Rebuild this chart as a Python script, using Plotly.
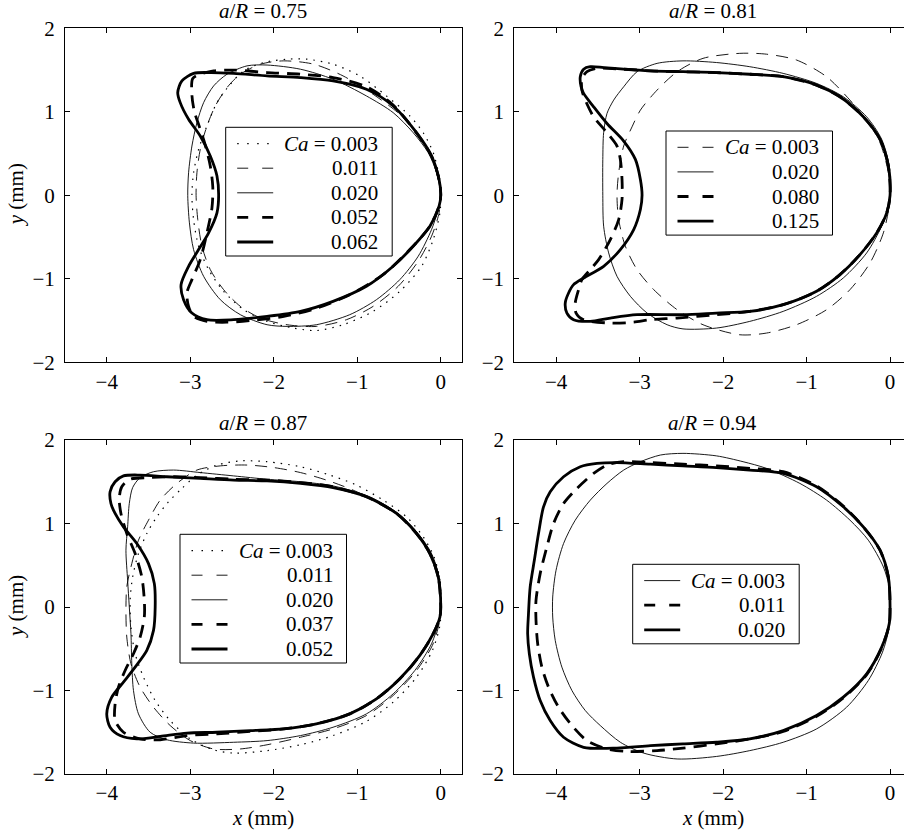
import plotly.graph_objects as go

# Bubble contours (x, y) in mm, traced nose -> top -> rear -> bottom -> nose.

# ---------- a/R = 0.75 ----------
ar075_ca0003 = [(0, 0), (-0.02, 0.23), (-0.09, 0.51), (-0.21, 0.75), (-0.37, 0.95), (-0.65, 1.19),
                (-0.97, 1.43), (-1.29, 1.57), (-1.60, 1.63), (-1.84, 1.63), (-2.12, 1.59), (-2.36, 1.49),
                (-2.52, 1.33), (-2.68, 1.11), (-2.80, 0.83), (-2.90, 0.55), (-2.96, 0.27), (-2.98, 0),
                (-2.96, -0.29), (-2.90, -0.61), (-2.78, -0.89), (-2.60, -1.15), (-2.36, -1.37),
                (-2.08, -1.51), (-1.76, -1.59), (-1.49, -1.62), (-1.17, -1.55), (-0.81, -1.39),
                (-0.49, -1.15), (-0.23, -0.85), (-0.09, -0.53), (-0.01, -0.21), (0, 0)]
ar075_ca0011 = [(0, 0), (-0.03, 0.19), (-0.11, 0.47), (-0.27, 0.73), (-0.49, 0.97), (-0.81, 1.21),
                (-1.17, 1.43), (-1.52, 1.57), (-1.88, 1.61), (-2.16, 1.57), (-2.40, 1.45), (-2.56, 1.29),
                (-2.70, 1.07), (-2.80, 0.83), (-2.88, 0.55), (-2.92, 0.27), (-2.93, 0), (-2.91, -0.29),
                (-2.86, -0.61), (-2.76, -0.89), (-2.60, -1.13), (-2.40, -1.33), (-2.16, -1.47),
                (-1.84, -1.55), (-1.49, -1.57), (-1.13, -1.49), (-0.81, -1.33), (-0.51, -1.09),
                (-0.27, -0.79), (-0.11, -0.49), (-0.02, -0.21), (0, 0)]
ar075_ca0020 = [(0, 0), (-0.05, 0.27), (-0.15, 0.51), (-0.33, 0.75), (-0.57, 0.99), (-0.89, 1.19),
                (-1.29, 1.39), (-1.68, 1.51), (-2.08, 1.56), (-2.32, 1.55), (-2.56, 1.45), (-2.72, 1.31),
                (-2.84, 1.11), (-2.92, 0.87), (-2.98, 0.59), (-3.02, 0.27), (-3.03, 0), (-3.01, -0.33),
                (-2.96, -0.65), (-2.84, -0.97), (-2.64, -1.25), (-2.40, -1.43), (-2.08, -1.55),
                (-1.84, -1.57), (-1.49, -1.55), (-1.09, -1.43), (-0.77, -1.25), (-0.49, -1.01),
                (-0.27, -0.73), (-0.11, -0.41), (-0.02, -0.13), (0, 0)]
ar075_ca0052 = [(0, 0), (-0.02, 0.19), (-0.11, 0.47), (-0.30, 0.76), (-0.58, 1.09), (-0.89, 1.30),
                (-1.29, 1.41), (-1.68, 1.45), (-2.08, 1.47), (-2.48, 1.50), (-2.72, 1.49), (-2.88, 1.45),
                (-2.97, 1.40), (-2.98, 1.20), (-2.95, 1.00), (-2.89, 0.82), (-2.82, 0.60), (-2.76, 0.35),
                (-2.73, 0.10), (-2.74, -0.15), (-2.80, -0.45), (-2.88, -0.77), (-2.98, -1.01),
                (-3.04, -1.17), (-3.02, -1.33), (-2.96, -1.45), (-2.80, -1.51), (-2.56, -1.52),
                (-2.28, -1.50), (-1.88, -1.45), (-1.48, -1.35), (-1.09, -1.19), (-0.69, -0.95),
                (-0.37, -0.65), (-0.13, -0.37), (-0.02, -0.13), (0, 0)]
ar075_ca0062 = [(0, 0), (-0.02, 0.19), (-0.11, 0.47), (-0.29, 0.75), (-0.57, 1.07), (-0.89, 1.27),
                (-1.29, 1.37), (-1.68, 1.41), (-2.08, 1.43), (-2.48, 1.46), (-2.76, 1.47), (-2.96, 1.46),
                (-3.10, 1.37), (-3.15, 1.23), (-3.12, 1.11), (-3.02, 0.91), (-2.88, 0.71), (-2.76, 0.47),
                (-2.68, 0.23), (-2.66, 0), (-2.68, -0.21), (-2.78, -0.45), (-2.90, -0.65), (-3.02, -0.85),
                (-3.11, -1.07), (-3.08, -1.25), (-2.98, -1.41), (-2.80, -1.49), (-2.48, -1.49),
                (-2.08, -1.45), (-1.68, -1.39), (-1.29, -1.27), (-0.89, -1.09), (-0.57, -0.85),
                (-0.33, -0.61), (-0.13, -0.37), (-0.02, -0.13), (0, 0)]

# ---------- a/R = 0.81 ----------
ar081_ca0003 = [(0, 0), (-0.02, 0.27), (-0.12, 0.63), (-0.28, 0.90), (-0.48, 1.14), (-0.76, 1.42),
                (-1.12, 1.62), (-1.48, 1.69), (-1.80, 1.70), (-2.24, 1.64), (-2.55, 1.48), (-2.79, 1.26),
                (-2.99, 1.02), (-3.09, 0.82), (-3.19, 0.59), (-3.25, 0.27), (-3.27, 0), (-3.25, -0.29),
                (-3.17, -0.61), (-3.03, -0.89), (-2.83, -1.13), (-2.55, -1.37), (-2.24, -1.55),
                (-1.80, -1.67), (-1.48, -1.65), (-1.12, -1.55), (-0.76, -1.37), (-0.48, -1.13),
                (-0.24, -0.81), (-0.08, -0.45), (-0.01, -0.13), (0, 0)]
ar081_ca0020 = [(0, 0), (-0.01, 0.35), (-0.10, 0.67), (-0.28, 0.94), (-0.56, 1.18), (-0.88, 1.34),
                (-1.28, 1.46), (-1.68, 1.54), (-2.08, 1.59), (-2.48, 1.61), (-2.79, 1.58), (-3.03, 1.48),
                (-3.19, 1.30), (-3.31, 1.14), (-3.39, 0.98), (-3.43, 0.75), (-3.44, 0.43), (-3.44, 0),
                (-3.43, -0.37), (-3.37, -0.69), (-3.27, -0.97), (-3.11, -1.21), (-2.91, -1.41),
                (-2.67, -1.55), (-2.48, -1.60), (-2.08, -1.59), (-1.68, -1.51), (-1.28, -1.39),
                (-0.88, -1.21), (-0.56, -0.99), (-0.28, -0.69), (-0.10, -0.37), (-0.01, -0.13), (0, 0)]
ar081_ca0080 = [(0, 0), (-0.02, 0.35), (-0.12, 0.67), (-0.32, 0.94), (-0.60, 1.18), (-0.88, 1.32),
                (-1.28, 1.42), (-1.68, 1.45), (-2.08, 1.47), (-2.48, 1.48), (-2.87, 1.49), (-3.19, 1.51),
                (-3.51, 1.52), (-3.63, 1.48), (-3.69, 1.40), (-3.69, 1.26), (-3.65, 1.14), (-3.55, 0.94),
                (-3.39, 0.75), (-3.27, 0.59), (-3.23, 0.43), (-3.21, 0.19), (-3.21, -0.05), (-3.25, -0.29),
                (-3.35, -0.53), (-3.49, -0.77), (-3.59, -0.89), (-3.69, -1.01), (-3.73, -1.13),
                (-3.77, -1.29), (-3.76, -1.41), (-3.67, -1.49), (-3.35, -1.53), (-3.07, -1.52),
                (-2.87, -1.49), (-2.55, -1.47), (-2.08, -1.43), (-1.68, -1.39), (-1.28, -1.31),
                (-0.88, -1.15), (-0.60, -0.95), (-0.36, -0.71), (-0.16, -0.45), (-0.04, -0.21), (0, 0)]
ar081_ca0125 = [(0, 0), (-0.02, 0.35), (-0.12, 0.67), (-0.32, 0.94), (-0.60, 1.18), (-0.88, 1.32),
                (-1.28, 1.42), (-1.68, 1.45), (-2.08, 1.47), (-2.48, 1.48), (-2.87, 1.49), (-3.19, 1.51),
                (-3.43, 1.53), (-3.59, 1.54), (-3.67, 1.51), (-3.71, 1.42), (-3.70, 1.30), (-3.67, 1.22),
                (-3.55, 1.06), (-3.39, 0.86), (-3.19, 0.65), (-3.05, 0.43), (-2.99, 0.19), (-2.97, 0),
                (-2.99, -0.17), (-3.07, -0.41), (-3.23, -0.65), (-3.43, -0.85), (-3.67, -0.99),
                (-3.79, -1.07), (-3.85, -1.17), (-3.89, -1.29), (-3.87, -1.41), (-3.79, -1.49),
                (-3.59, -1.51), (-3.35, -1.47), (-3.03, -1.43), (-2.48, -1.43), (-2.08, -1.41),
                (-1.68, -1.39), (-1.28, -1.31), (-0.88, -1.15), (-0.60, -0.95), (-0.36, -0.71),
                (-0.16, -0.45), (-0.04, -0.21), (0, 0)]

# ---------- a/R = 0.87 ----------
ar087_ca0003 = [(0, 0), (-0.01, 0.32), (-0.08, 0.60), (-0.21, 0.84), (-0.41, 1.08), (-0.69, 1.28),
                (-1.01, 1.46), (-1.33, 1.58), (-1.68, 1.68), (-2.08, 1.74), (-2.40, 1.75), (-2.68, 1.70),
                (-2.92, 1.58), (-3.10, 1.42), (-3.26, 1.26), (-3.40, 1.08), (-3.52, 0.88), (-3.62, 0.64),
                (-3.69, 0.36), (-3.72, 0.08), (-3.71, -0.24), (-3.66, -0.56), (-3.56, -0.84),
                (-3.42, -1.12), (-3.24, -1.36), (-3.00, -1.58), (-2.72, -1.71), (-2.48, -1.75),
                (-2.08, -1.72), (-1.68, -1.65), (-1.29, -1.54), (-0.89, -1.37), (-0.57, -1.14),
                (-0.29, -0.84), (-0.10, -0.52), (-0.01, -0.22), (0, 0)]
ar087_ca0011 = [(0, 0), (-0.02, 0.32), (-0.10, 0.60), (-0.23, 0.82), (-0.43, 1.04), (-0.73, 1.24),
                (-1.05, 1.40), (-1.37, 1.52), (-1.68, 1.61), (-2.00, 1.67), (-2.32, 1.70), (-2.64, 1.69),
                (-2.92, 1.64), (-3.16, 1.48), (-3.36, 1.28), (-3.50, 1.04), (-3.62, 0.80), (-3.70, 0.52),
                (-3.76, 0.24), (-3.77, -0.04), (-3.76, -0.36), (-3.71, -0.68), (-3.60, -0.96),
                (-3.44, -1.20), (-3.24, -1.42), (-3.00, -1.60), (-2.72, -1.70), (-2.40, -1.70),
                (-2.08, -1.65), (-1.68, -1.56), (-1.29, -1.46), (-0.89, -1.30), (-0.57, -1.06),
                (-0.29, -0.76), (-0.10, -0.46), (-0.02, -0.20), (0, 0)]
ar087_ca0020 = [(0, 0), (-0.02, 0.36), (-0.11, 0.64), (-0.27, 0.88), (-0.51, 1.12), (-0.85, 1.32),
                (-1.29, 1.45), (-1.68, 1.50), (-2.08, 1.53), (-2.48, 1.57), (-2.88, 1.61), (-3.20, 1.64),
                (-3.44, 1.62), (-3.60, 1.55), (-3.69, 1.43), (-3.73, 1.24), (-3.75, 0.96), (-3.77, 0.68),
                (-3.75, 0.32), (-3.73, 0), (-3.71, -0.32), (-3.70, -0.68), (-3.68, -1.00), (-3.62, -1.28),
                (-3.48, -1.50), (-3.28, -1.59), (-2.96, -1.63), (-2.48, -1.62), (-2.08, -1.60),
                (-1.68, -1.54), (-1.29, -1.44), (-0.89, -1.28), (-0.57, -1.04), (-0.31, -0.76),
                (-0.11, -0.44), (-0.02, -0.16), (0, 0)]
ar087_ca0037 = [(0, 0), (-0.03, 0.36), (-0.13, 0.64), (-0.29, 0.88), (-0.53, 1.12), (-0.89, 1.32),
                (-1.29, 1.44), (-1.68, 1.49), (-2.08, 1.52), (-2.48, 1.53), (-2.88, 1.55), (-3.20, 1.56),
                (-3.48, 1.55), (-3.72, 1.53), (-3.82, 1.44), (-3.85, 1.30), (-3.83, 1.12), (-3.76, 0.88),
                (-3.66, 0.64), (-3.58, 0.36), (-3.55, 0.08), (-3.55, -0.12), (-3.60, -0.36),
                (-3.68, -0.56), (-3.78, -0.76), (-3.86, -0.96), (-3.90, -1.16), (-3.90, -1.36),
                (-3.80, -1.50), (-3.60, -1.58), (-3.36, -1.59), (-3.04, -1.54), (-2.68, -1.52),
                (-2.28, -1.49), (-1.88, -1.46), (-1.49, -1.40), (-1.09, -1.28), (-0.77, -1.10),
                (-0.49, -0.86), (-0.25, -0.58), (-0.09, -0.32), (-0.01, -0.12), (0, 0)]
ar087_ca0052 = [(0, 0), (-0.03, 0.36), (-0.13, 0.64), (-0.29, 0.88), (-0.53, 1.12), (-0.89, 1.32),
                (-1.29, 1.43), (-1.68, 1.48), (-2.08, 1.51), (-2.48, 1.52), (-2.88, 1.54), (-3.28, 1.56),
                (-3.60, 1.58), (-3.80, 1.57), (-3.90, 1.50), (-3.96, 1.38), (-3.95, 1.24), (-3.90, 1.12),
                (-3.80, 0.96), (-3.64, 0.76), (-3.50, 0.52), (-3.43, 0.28), (-3.42, 0), (-3.44, -0.28),
                (-3.52, -0.52), (-3.66, -0.72), (-3.80, -0.90), (-3.94, -1.08), (-4.00, -1.28),
                (-3.96, -1.44), (-3.84, -1.54), (-3.64, -1.58), (-3.36, -1.55), (-3.04, -1.51),
                (-2.68, -1.50), (-2.28, -1.48), (-1.88, -1.46), (-1.49, -1.40), (-1.09, -1.28),
                (-0.77, -1.10), (-0.49, -0.86), (-0.25, -0.58), (-0.09, -0.32), (-0.01, -0.12), (0, 0)]

# ---------- a/R = 0.94 ----------
ar094_ca0003 = [(0, 0), (-0.01, 0.24), (-0.08, 0.48), (-0.26, 0.80), (-0.48, 1.04), (-0.76, 1.28),
                (-1.08, 1.48), (-1.48, 1.66), (-1.76, 1.74), (-2.08, 1.81), (-2.48, 1.84), (-2.75, 1.82),
                (-2.99, 1.74), (-3.19, 1.64), (-3.39, 1.48), (-3.59, 1.28), (-3.77, 1.04), (-3.91, 0.76),
                (-4.00, 0.44), (-4.04, 0.12), (-4.04, -0.12), (-4.01, -0.40), (-3.93, -0.72),
                (-3.81, -1.00), (-3.65, -1.24), (-3.47, -1.42), (-3.23, -1.62), (-2.95, -1.75),
                (-2.55, -1.82), (-2.08, -1.79), (-1.68, -1.72), (-1.28, -1.62), (-0.88, -1.46),
                (-0.52, -1.20), (-0.26, -0.88), (-0.09, -0.54), (-0.01, -0.24), (0, 0)]
ar094_ca0011 = [(0, 0), (-0.02, 0.36), (-0.12, 0.68), (-0.32, 0.96), (-0.56, 1.21), (-0.88, 1.45),
                (-1.28, 1.62), (-1.68, 1.66), (-2.08, 1.69), (-2.48, 1.71), (-2.87, 1.73), (-3.19, 1.74),
                (-3.39, 1.70), (-3.55, 1.60), (-3.75, 1.42), (-3.91, 1.24), (-4.03, 1.00), (-4.11, 0.72),
                (-4.19, 0.40), (-4.24, 0.08), (-4.24, -0.16), (-4.22, -0.44), (-4.17, -0.72),
                (-4.09, -0.96), (-3.97, -1.20), (-3.81, -1.42), (-3.63, -1.60), (-3.39, -1.70),
                (-3.15, -1.73), (-2.79, -1.72), (-2.48, -1.69), (-2.08, -1.64), (-1.68, -1.58),
                (-1.28, -1.49), (-0.88, -1.31), (-0.56, -1.09), (-0.28, -0.81), (-0.10, -0.49),
                (-0.01, -0.21), (0, 0)]
ar094_ca0020 = [(0, 0), (-0.02, 0.36), (-0.12, 0.68), (-0.32, 0.96), (-0.56, 1.20), (-0.88, 1.44),
                (-1.28, 1.60), (-1.68, 1.64), (-2.08, 1.67), (-2.48, 1.69), (-2.87, 1.71), (-3.27, 1.73),
                (-3.51, 1.72), (-3.71, 1.68), (-3.91, 1.56), (-4.07, 1.38), (-4.15, 1.20), (-4.21, 0.88),
                (-4.26, 0.56), (-4.31, 0.24), (-4.33, -0.08), (-4.34, -0.32), (-4.32, -0.56),
                (-4.27, -0.84), (-4.19, -1.12), (-4.07, -1.36), (-3.91, -1.56), (-3.67, -1.68),
                (-3.27, -1.69), (-2.87, -1.66), (-2.48, -1.64), (-2.08, -1.62), (-1.68, -1.58),
                (-1.28, -1.48), (-0.88, -1.30), (-0.56, -1.08), (-0.28, -0.80), (-0.10, -0.48),
                (-0.01, -0.20), (0, 0)]

# Panel titles and legend labels
ratios = ["0.75", "0.81", "0.87", "0.94"]
ca_075 = ["0.003", "0.011", "0.020", "0.052", "0.062"]
ca_081 = ["0.003", "0.020", "0.080", "0.125"]
ca_087 = ["0.003", "0.011", "0.020", "0.037", "0.052"]
ca_094 = ["0.003", "0.011", "0.020"]

x_ticks = [-4, -3, -2, -1, 0]
y_ticks = [-2, -1, 0, 1, 2]

FONT = "Liberation Serif, Times New Roman, serif"
FS = 21
STYLES = {
    "dot":       dict(width=1.2, dash="1.5px,6px"),
    "dash":      dict(width=0.9, dash="12px,8px"),
    "solid":     dict(width=0.9, dash="solid"),
    "thickdash": dict(width=2.8, dash="13px,8px"),
    "thick":     dict(width=2.8, dash="solid"),
}
# legend sample dashes are shorter so two dashes fit in the swatch
SAMPLE_DASH = {"dot": "1.5px,8.5px", "dash": "11px,14px", "thickdash": "11px,14px"}

W, H = 904, 835
PX_PER_MM = 83.5
X_LEFT = [65.0, 514.3]          # left edge of the left / right column (px)
Y_TOP = [28.3, 440.0]           # top edge of the upper / lower row (px)
PANEL_H = 4 * PX_PER_MM
X_MIN, X_MAX = -4.5, 0.25

# legend box geometry (px)
LEG_W, LEG_ROW, LEG_FIRST, LEG_LAST_PAD = 166.5, 24.6, 16.3, 14.0
LEG_SAMPLE = (11.5, 47.5)
LEG_TEXT_PAD = 12.0

panels = [
    dict(ratio=ratios[0], col=0, row=0, cas=ca_075,
         curves=[ar075_ca0003, ar075_ca0011, ar075_ca0020, ar075_ca0052, ar075_ca0062],
         styles=["dot", "dash", "solid", "thickdash", "thick"], legend_px=(225.7, 127.3)),
    dict(ratio=ratios[1], col=1, row=0, cas=ca_081,
         curves=[ar081_ca0003, ar081_ca0020, ar081_ca0080, ar081_ca0125],
         styles=["dash", "solid", "thickdash", "thick"], legend_px=(666.0, 131.0)),
    dict(ratio=ratios[2], col=0, row=1, cas=ca_087,
         curves=[ar087_ca0003, ar087_ca0011, ar087_ca0020, ar087_ca0037, ar087_ca0052],
         styles=["dot", "dash", "solid", "thickdash", "thick"], legend_px=(180.0, 534.3)),
    dict(ratio=ratios[3], col=1, row=1, cas=ca_094,
         curves=[ar094_ca0003, ar094_ca0011, ar094_ca0020],
         styles=["solid", "thickdash", "thick"], legend_px=(632.7, 564.3)),
]


def px(xp):
    return xp / W


def py(yp):
    return 1 - yp / H


fig = go.Figure()
annotations, shapes = [], []
layout = dict(template="none", width=W, height=H, margin=dict(l=0, r=0, t=0, b=0, pad=0),
              paper_bgcolor="white", plot_bgcolor="white", showlegend=False,
              font=dict(family=FONT, size=FS, color="black"))

for i, p in enumerate(panels):
    n = "" if i == 0 else str(i + 1)
    xa, ya = "x" + n, "y" + n
    x0 = X_LEFT[p["col"]]
    x1_px = x0 + (X_MAX - X_MIN) * PX_PER_MM
    x1 = min(x1_px, W)
    xmax = X_MIN + (x1 - x0) / PX_PER_MM
    top = Y_TOP[p["row"]]
    bot = top + PANEL_H

    for pts, ca, st in zip(p["curves"], p["cas"], p["styles"]):
        fig.add_trace(go.Scatter(
            x=[q[0] for q in pts], y=[q[1] for q in pts], mode="lines",
            line=dict(color="black", shape="spline", smoothing=0.8, **STYLES[st]),
            name="Ca = " + ca, xaxis=xa, yaxis=ya, hoverinfo="skip"))

    clipped = x1_px > W
    common = dict(ticks="inside", ticklen=5, tickwidth=1, tickcolor="black",
                  showline=True, linecolor="black", linewidth=1, automargin=False,
                  showgrid=False, zeroline=False, tickfont=dict(family=FONT, size=FS))
    layout["xaxis" + n] = dict(domain=[px(x0), px(x1)], range=[X_MIN, xmax], anchor=ya,
                               tickvals=x_ticks, mirror="ticks", **common)
    layout["yaxis" + n] = dict(domain=[py(bot), py(top)], range=[-2, 2], anchor=xa,
                               tickvals=y_ticks, mirror=False if clipped else "ticks",
                               ticklabelstandoff=5, **common)

    # legend box, line swatches and right-aligned labels
    lx, ly = p["legend_px"]
    nrow = len(p["cas"])
    lh = LEG_FIRST + (nrow - 1) * LEG_ROW + LEG_LAST_PAD
    shapes.append(dict(type="rect", xref="paper", yref="paper", layer="above",
                       x0=px(lx), x1=px(lx + LEG_W), y0=py(ly + lh), y1=py(ly),
                       line=dict(color="black", width=1), fillcolor="white"))
    for j, (ca, st) in enumerate(zip(p["cas"], p["styles"])):
        ry = ly + LEG_FIRST + j * LEG_ROW
        sty = STYLES[st]
        shapes.append(dict(type="line", xref="paper", yref="paper", layer="above",
                           x0=px(lx + LEG_SAMPLE[0]), x1=px(lx + LEG_SAMPLE[1]),
                           y0=py(ry), y1=py(ry),
                           line=dict(color="black", width=sty["width"],
                                     dash=SAMPLE_DASH.get(st, "solid"))))
        annotations.append(dict(
            text=("<i>Ca</i> = " if j == 0 else "") + ca, xref="paper", yref="paper",
            x=px(lx + LEG_W - LEG_TEXT_PAD), y=py(ry), xanchor="right", yanchor="middle",
            showarrow=False, font=dict(family=FONT, size=FS)))

    cx = (x0 + x1_px) / 2
    annotations.append(dict(
        text="<i>a</i>/<i>R</i> = " + p["ratio"], xref="paper", yref="paper",
        x=px(cx), y=py(top), xanchor="center", yanchor="bottom", yshift=3,
        showarrow=False, font=dict(family=FONT, size=FS)))
    if p["col"] == 0:
        annotations.append(dict(
            text="<i>y</i> (mm)", xref="paper", yref="paper", textangle=-90,
            x=px(16), y=py((top + bot) / 2), xanchor="center", yanchor="middle",
            showarrow=False, font=dict(family=FONT, size=FS)))
    if p["row"] == 1:
        annotations.append(dict(
            text="<i>x</i> (mm)", xref="paper", yref="paper",
            x=px(cx), y=py(818), xanchor="center", yanchor="middle",
            showarrow=False, font=dict(family=FONT, size=FS)))

layout["annotations"] = annotations
layout["shapes"] = shapes
fig.update_layout(**layout)
fig.write_html("out.html")
